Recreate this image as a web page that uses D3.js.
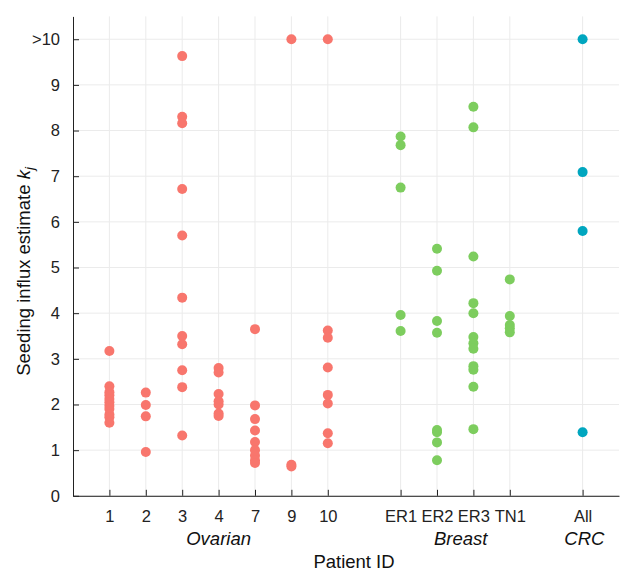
<!DOCTYPE html>
<html><head><meta charset="utf-8">
<script src="https://cdn.jsdelivr.net/npm/d3@7"></script>
<style>body{margin:0;background:#fff}svg{font-family:"Liberation Sans",Arial,sans-serif}</style>
</head><body>
<svg id="c" width="629" height="571"></svg>
<script>
// categories: [label, position, group]
const categories = ["1","2","3","4","7","9","10","ER1","ER2","ER3","TN1","All"];
const positions = [1,2,3,4,5,6,7,9,10,11,12,14];
const groups = ["Ovarian","Ovarian","Ovarian","Ovarian","Ovarian","Ovarian","Ovarian","Breast","Breast","Breast","Breast","CRC"];
const groupLabels = [{name:"Ovarian", pos:4},{name:"Breast", pos:10.65},{name:"CRC", pos:14.05}];
const groupColors = {Ovarian:"#F8766D", Breast:"#7DCD5E", CRC:"#00A6BF"};
// values (10 represents ">10")
const values = {
  "1":[3.17,2.40,2.27,2.20,2.12,2.05,1.97,1.90,1.78,1.72,1.60],
  "2":[2.26,1.99,1.74,0.96],
  "3":[9.63,8.30,8.16,6.72,5.70,4.34,3.50,3.32,2.75,2.38,1.32],
  "4":[2.80,2.70,2.23,2.07,2.00,1.80,1.75],
  "7":[3.65,1.98,1.68,1.43,1.18,1.00,0.88,0.78,0.72],
  "9":[10,0.68,0.64],
  "10":[10,3.62,3.46,2.81,2.21,2.02,1.37,1.15],
  "ER1":[7.87,7.68,6.75,3.96,3.61],
  "ER2":[5.41,4.93,3.83,3.57,1.44,1.39,1.17,0.78],
  "ER3":[8.52,8.07,5.24,4.22,4.00,3.48,3.34,3.22,2.84,2.76,2.39,1.46],
  "TN1":[4.74,3.94,3.74,3.67,3.58],
  "All":[10,7.09,5.80,1.39]
};
const yTicks = [0,1,2,3,4,5,6,7,8,9,10];
const yTickLabels = ["0","1","2","3","4","5","6","7","8","9",">10"];

const svg = d3.select("#c");
const x = d3.scaleLinear().domain([0,15]).range([73,619]);
const y = d3.scaleLinear().domain([0,10.5]).range([495.8,16.4]);

// grid
const g = svg.append("g");
g.selectAll("line.h").data(yTicks).join("line")
  .attr("x1",x(0)).attr("x2",x(15)).attr("y1",d=>y(d)).attr("y2",d=>y(d))
  .attr("stroke","#ebebeb").attr("stroke-width",1);
g.selectAll("line.v").data(positions).join("line")
  .attr("x1",d=>x(d)).attr("x2",d=>x(d)).attr("y1",y(0)).attr("y2",y(10.5))
  .attr("stroke","#ebebeb").attr("stroke-width",1);

// axes
const yAxis = d3.axisLeft(y).tickValues(yTicks).tickFormat((d,i)=>yTickLabels[i]).tickSizeInner(-6).tickSizeOuter(0).tickPadding(13);
const ya = svg.append("g").attr("transform",`translate(${x(0)},0)`).call(yAxis);
const xAxis = d3.axisBottom(x).tickValues(positions).tickFormat((d,i)=>categories[i]).tickSizeInner(-6).tickSizeOuter(0).tickPadding(14);
const xa = svg.append("g").attr("transform",`translate(0,${y(0)})`).call(xAxis);
[ya,xa].forEach(a=>{
  a.select(".domain").attr("stroke","#222");
  a.selectAll(".tick line").attr("stroke","#222");
  a.selectAll("text").attr("font-size",16.5).attr("fill","#222");
});

// points
const pts = [];
categories.forEach((c,i)=>values[c].forEach(v=>pts.push({c, pos:positions[i], grp:groups[i], v})));
svg.append("g").selectAll("circle").data(pts).join("circle")
  .attr("cx",d=>x(d.pos)).attr("cy",d=>y(d.v)).attr("r",5)
  .attr("fill",d=>groupColors[d.grp]);

// group labels
svg.append("g").selectAll("text").data(groupLabels).join("text")
  .attr("x",d=>x(d.pos)).attr("y",545).attr("text-anchor","middle")
  .attr("font-size",18.5).attr("font-style","italic").attr("fill","#111").text(d=>d.name);

svg.append("text").attr("x",354).attr("y",568).attr("text-anchor","middle")
  .attr("font-size",18.5).attr("fill","#111").text("Patient ID");

const yl = svg.append("text").attr("transform",`translate(30,${y(5)+4}) rotate(-90)`)
  .attr("text-anchor","middle").attr("font-size",18.5).attr("fill","#111");
yl.append("tspan").text("Seeding influx estimate ");
yl.append("tspan").attr("font-style","italic").text("k");
yl.append("tspan").attr("font-style","italic").attr("font-size",13).attr("dy",4).text("j");
</script>
</body></html>
